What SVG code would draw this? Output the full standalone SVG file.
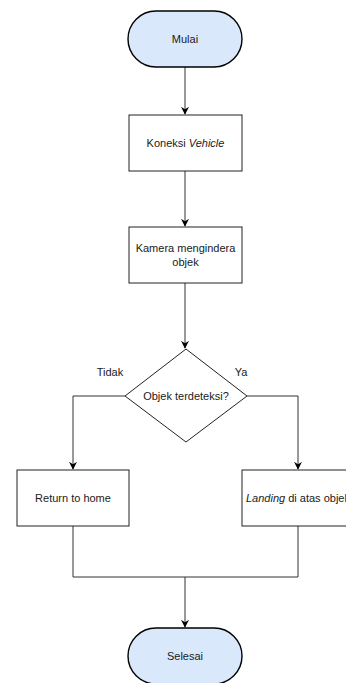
<svg xmlns="http://www.w3.org/2000/svg" width="346" height="683" viewBox="0 0 346 683">
<style>
text{font-family:"Liberation Sans",Arial,sans-serif;font-size:11px;fill:#1a1a1a}
.term{fill:#dae8fc;stroke:#000;stroke-width:1.4}
.box{fill:#fff;stroke:#222;stroke-width:1}
.edge{fill:none;stroke:#333;stroke-width:1}
</style>
<defs>
<marker id="arr" viewBox="0 0 10 10" refX="9" refY="5" markerWidth="8" markerHeight="8" markerUnits="userSpaceOnUse" orient="auto">
<path d="M0,0 L10,5 L0,10 L3,5 Z" fill="#000"/>
</marker>
</defs>
<rect width="346" height="683" fill="#fff"/>
<g id="edges">
<path class="edge" d="M185,67 V114" marker-end="url(#arr)"/>
<path class="edge" d="M185,171 V226" marker-end="url(#arr)"/>
<path class="edge" d="M185,283 V348" marker-end="url(#arr)"/>
<path class="edge" d="M125,396 H73 V469" marker-end="url(#arr)"/>
<path class="edge" d="M247,396 H298 V469" marker-end="url(#arr)"/>
<path class="edge" d="M73,526 V577 H298 V526"/>
<path class="edge" d="M185,577 V627" marker-end="url(#arr)"/>
<text x="110" y="376" text-anchor="middle">Tidak</text>
<text x="241" y="376" text-anchor="middle">Ya</text>
</g>
<g id="mulai">
<rect class="term" x="128" y="11" width="114" height="56" rx="28"/>
<text x="185" y="43" text-anchor="middle">Mulai</text>
</g>
<g id="koneksi">
<rect class="box" x="129" y="115" width="113" height="56"/>
<text x="185.5" y="147" text-anchor="middle">Koneksi <tspan font-style="italic">Vehicle</tspan></text>
</g>
<g id="kamera">
<rect class="box" x="129" y="227" width="113" height="56"/>
<text x="185.5" y="252" text-anchor="middle">Kamera mengindera</text>
<text x="185.5" y="266" text-anchor="middle">objek</text>
</g>
<g id="decision">
<polygon class="box" points="186,349 247,396 186,442 125,396"/>
<text x="186" y="400" text-anchor="middle">Objek terdeteksi?</text>
</g>
<g id="return">
<rect class="box" x="17" y="470" width="112" height="56"/>
<text x="73" y="502" text-anchor="middle">Return to home</text>
</g>
<g id="landing">
<rect class="box" x="242" y="470" width="112" height="56"/>
<text x="298" y="502" text-anchor="middle"><tspan font-style="italic">Landing</tspan> di atas objek</text>
</g>
<g id="selesai">
<rect class="term" x="128" y="628" width="114" height="56" rx="28"/>
<text x="185" y="660" text-anchor="middle">Selesai</text>
</g>
</svg>
